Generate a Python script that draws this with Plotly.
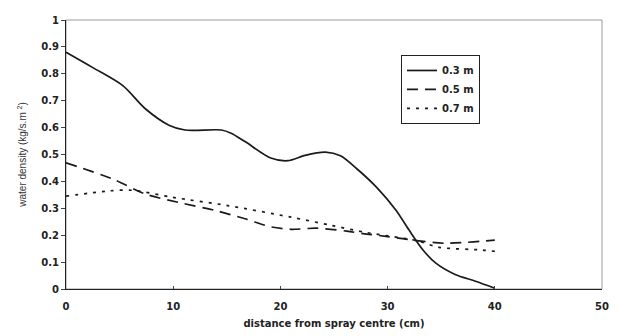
import plotly.graph_objects as go

x_03 = [0, 2.5, 5.3, 7.4, 9.6, 11.1, 14.5, 15.4, 16.7, 19.1, 20.7, 22.3, 24.2, 25.6, 27.1, 29.0, 30.8, 32.0, 33.3, 34.5, 36.3, 38.2, 40]
y_03 = [0.88, 0.823, 0.756, 0.67, 0.609, 0.591, 0.591, 0.579, 0.548, 0.487, 0.477, 0.497, 0.509, 0.495, 0.448, 0.377, 0.292, 0.219, 0.145, 0.096, 0.054, 0.029, 0.003]

x_05 = [0, 4.4, 7.4, 10.5, 13.9, 16.7, 19.1, 21.0, 23.4, 26.2, 27.7, 30.0, 32.7, 35.4, 40]
y_05 = [0.469, 0.408, 0.353, 0.322, 0.292, 0.261, 0.231, 0.222, 0.226, 0.215, 0.206, 0.195, 0.18, 0.17, 0.182]

x_07 = [0, 4.1, 6.2, 9.9, 15.1, 21.0, 24.7, 28.0, 32.7, 34.8, 38.8, 40]
y_07 = [0.345, 0.365, 0.367, 0.341, 0.31, 0.267, 0.237, 0.21, 0.18, 0.155, 0.145, 0.14]

names = ["0.3 m", "0.5 m", "0.7 m"]
dashes = ["solid", "11px,7px", "3px,6px"]

x_ticks = [0, 10, 20, 30, 40, 50]
y_ticks = [0, 0.1, 0.2, 0.3, 0.4, 0.5, 0.6, 0.7, 0.8, 0.9, 1]
y_tick_text = ["0", "0.1", "0.2", "0.3", "0.4", "0.5", "0.6", "0.7", "0.8", "0.9", "1"]

fig = go.Figure()
for xs, ys, nm, ds in zip([x_03, x_05, x_07], [y_03, y_05, y_07], names, dashes):
    fig.add_trace(go.Scatter(
        x=xs, y=ys, name=nm, mode="lines",
        line=dict(color="#1a1a1a", width=1.7, dash=ds, shape="spline", smoothing=0.8),
    ))

fig.add_shape(type="rect", xref="paper", yref="paper", x0=0, y0=0, x1=1, y1=1,
              line=dict(color="#9a9a9a", width=1), layer="below")

tick_font = dict(family="DejaVu Sans", size=10, color="#222222", weight="bold")

fig.update_layout(
    width=618, height=336,
    margin=dict(l=66, r=9, t=20, b=43),
    paper_bgcolor="white", plot_bgcolor="white",
    showlegend=True,
    legend=dict(
        x=0.625, y=0.87, xanchor="left", yanchor="top",
        bordercolor="#222222", borderwidth=1, bgcolor="white",
        font=dict(family="DejaVu Sans", size=10, color="#222222", weight="bold"),
        tracegroupgap=0, itemwidth=30,
    ),
    xaxis=dict(
        range=[0, 50], tickvals=x_ticks, showgrid=False, zeroline=False,
        showline=True, linecolor="#222222", linewidth=1.2,
        ticks="inside", ticklen=3, tickcolor="#444444",
        tickfont=tick_font, ticklabelstandoff=8,
        title=dict(text="distance from spray centre (cm)", standoff=8,
                   font=dict(family="DejaVu Sans", size=10, color="#222222", weight="bold")),
    ),
    yaxis=dict(
        range=[0, 1], tickvals=y_ticks, ticktext=y_tick_text, showgrid=False, zeroline=False,
        showline=True, linecolor="#222222", linewidth=1.2,
        ticks="outside", ticklen=4, tickcolor="#444444",
        tickfont=tick_font,
        title=dict(text="water density (kg/s.m <sup>2</sup>)", standoff=12,
                   font=dict(family="Liberation Sans", size=10, color="#333333")),
    ),
)

fig.write_html("out.html", config={"displayModeBar": False},
               post_script="document.body.style.margin='0px';")
